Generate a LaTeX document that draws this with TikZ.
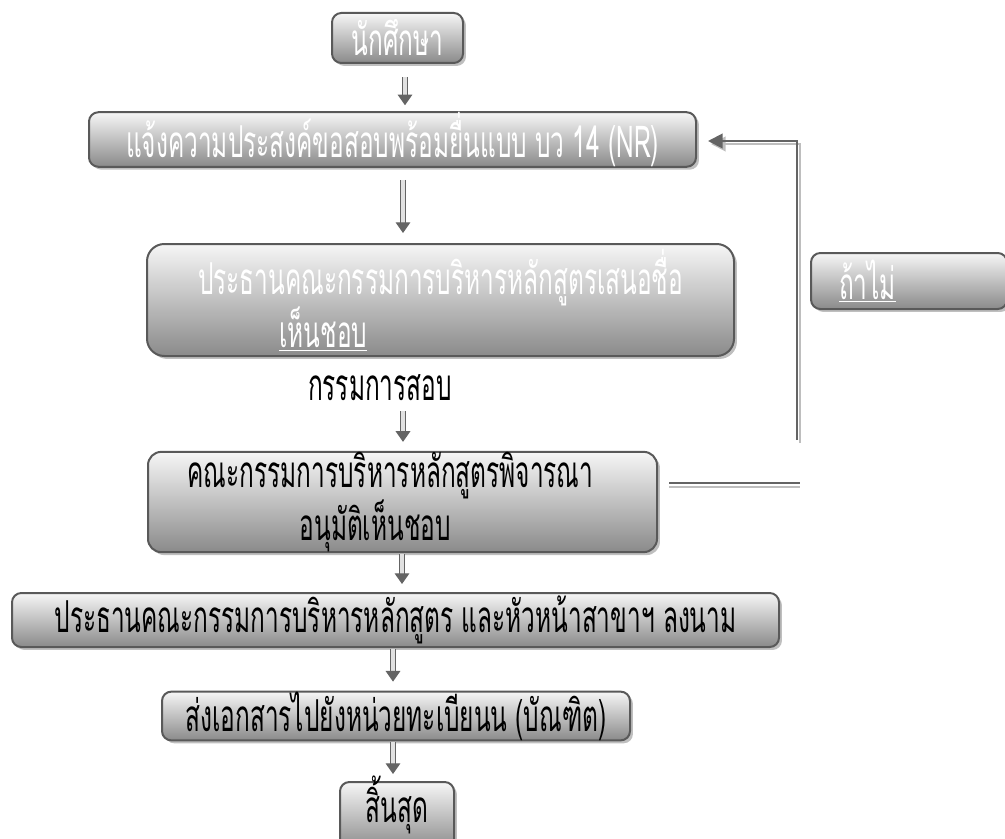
\documentclass[tikz,border=0pt]{standalone}
\usepackage{fontspec}
\newfontfamily\thaifont{Loma}[Script=Thai,FakeStretch=0.555]
\usetikzlibrary{arrows.meta,shadows,calc}
\definecolor{boxborder}{RGB}{89,89,89}
\definecolor{boxtop}{RGB}{246,246,246}
\definecolor{boxbot}{RGB}{138,138,138}
\definecolor{lnk}{RGB}{100,100,100}
\definecolor{lnkshadow}{RGB}{190,190,190}
\definecolor{shaftfill}{RGB}{225,225,225}
\newcommand{\thaitxt}{\thaifont\fontsize{33}{38}\selectfont}
\tikzset{
  box/.style={draw=boxborder, line width=1.5pt, rounded corners=7pt,
    top color=boxtop, bottom color=boxbot, inner sep=0pt, font=\thaitxt,
    drop shadow={shadow xshift=2.2pt, shadow yshift=-2.2pt, fill=black!25, opacity=1}},
  wt/.style={text=white},
  plain/.style={font=\thaitxt, inner sep=0pt},
  dar/.style={draw=lnk, double=shaftfill, double distance=3pt, line width=0.9pt,
    -{Triangle[width=11pt,length=8pt]}},
  fbl/.style={draw=lnk, line width=1.5pt},
  fbs/.style={draw=lnkshadow, line width=1.5pt},
}
\begin{document}
\begin{tikzpicture}[x=0.75pt,y=-0.75pt]
\useasboundingbox (0,0) rectangle (1005,838);
\clip (0,0) rectangle (1005,838);
% boxes
\node[box, wt, minimum width=98.25pt, minimum height=37.5pt] (b1) at (397.5,38) {นักศึกษา};
\node[box, wt, minimum width=455.25pt, minimum height=35.25pt] (b2) at (392.5,139.5) {แจ้งความประสงค์ขอสอบพร้อมยื่นแบบ บว 14 (NR)};
\node[box, wt, rounded corners=13pt, minimum width=440.25pt, minimum height=84pt, align=left] (b3) at (440.5,300)
  {ประธานคณะกรรมการบริหารหลักสูตรเสนอชื่อ\\[0pt]\hspace*{61pt}\underline{เห็นชอบ}};
\node[box, wt, minimum height=42pt, inner xsep=21pt, text width=105pt, align=left] (tm) at (909,281) {\underline{ถ้าไม่}};
\node[plain] (kk) at (380,388) {กรรมการสอบ};
\node[box, rounded corners=10pt, minimum width=381.75pt, minimum height=67.5pt, align=left] (b4) at (402.5,502)
  {คณะกรรมการบริหารหลักสูตรพิจารณา\hspace*{18pt}\\[0pt]\hspace*{84pt}อนุมัติเห็นชอบ};
\node[box, minimum width=575.25pt, minimum height=40.5pt] (b5) at (395.5,620) {ประธานคณะกรรมการบริหารหลักสูตร และหัวหน้าสาขาฯ ลงนาม};
\node[box, minimum width=351pt, minimum height=36pt] (b6) at (396,716) {ส่งเอกสารไปยังหน่วยทะเบียนน (บัณฑิต)};
\node[box, minimum width=85.5pt, minimum height=51pt] (b7) at (397,816) {\smash{\raisebox{-5pt}{สิ้นสุด}}};
% arrow columns
\coordinate (xa) at (405,0);
\coordinate (xb) at (403,0);
\coordinate (xc) at (402,0);
\coordinate (xd) at (393,0);
\draw[dar] ($(xa |- b1.south)+(0,13)$) -- ($(xa |- b2.north)+(0,-6)$);
\draw[dar] ($(xb |- b2.south)+(0,12)$) -- ($(xb |- b3.north)+(0,-10)$);
\draw[dar] ($(xb |- kk.south)+(0,10)$) -- ($(xb |- b4.north)+(0,-9)$);
\draw[dar] ($(xc |- b4.south)+(0,1)$) -- ($(xc |- b5.north)+(0,-8)$);
\draw[dar] ($(xd |- b5.south)+(0,1)$) -- ($(xd |- b6.north)+(0,-9)$);
\draw[dar] ($(xd |- b6.south)+(0,1)$) -- ($(xd |- b7.north)+(0,-7)$);
% feedback
\coordinate (fA) at (800,483);
\coordinate (fB) at (797,440);
\coordinate (fC) at (797,141);
\coordinate (fS) at ($(b4.north east |- fA)+(11,0)$);
\coordinate (fT) at ($(b2.east |- fC)+(11,0)$);
\draw[fbs] ($(fS)+(0,4)$) -- ($(fA)+(0,4)$);
\draw[fbl] (fS) -- (fA);
\draw[fbs, -{Triangle[width=11pt,length=11pt]}] ($(fB)+(3,3)$) -- ($(fC)+(3,3)$) -- ($(fT)+(3,3)$);
\draw[fbl, -{Triangle[width=11pt,length=11pt]}] (fB) -- (fC) -- (fT);
\end{tikzpicture}
\end{document}
